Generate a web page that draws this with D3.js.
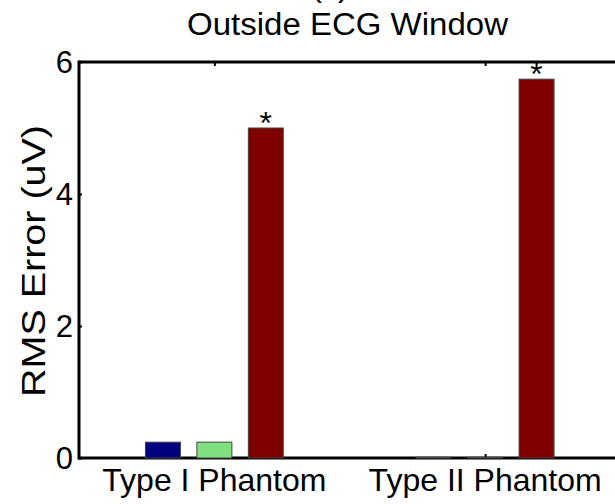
<!DOCTYPE html>
<html>
<head>
<meta charset="utf-8">
<script src="https://cdn.jsdelivr.net/npm/d3@7/dist/d3.min.js"></script>
<style>
  html, body { margin: 0; padding: 0; background: #fff; }
  svg { display: block; font-family: "Liberation Sans", Arial, sans-serif; }
</style>
</head>
<body>
<svg id="chart" width="615" height="504"></svg>
<script>
// Groups along the x axis
const categories = ["Type I Phantom", "Type II Phantom"];
// Three methods compared within each group
const seriesNames = ["Method A", "Method B", "Method C"];
// RMS error (uV), one array per series, indexed by category
const seriesA = [0.24, 0.012];
const seriesB = [0.24, 0.012];
const seriesC = [5.00, 5.74];
// Which bars carry a significance star
const starA = [false, false];
const starB = [false, false];
const starC = [true, true];
const yTicks = [0, 2, 4, 6];
const panelText = "(c)";
const titleText = "Outside ECG Window";
const yLabelText = "RMS Error (uV)";

const colors = ["#000080", "#80e080", "#800000"];
const values = [seriesA, seriesB, seriesC];
const stars = [starA, starB, starC];

const svg = d3.select("#chart");
const plotL = 79, plotR = 620.5, plotT = 62, plotB = 458;

// category positions run 1..n with half a unit of margin either side
const x = d3.scaleLinear().domain([0.5, categories.length + 0.5]).range([plotL, plotR]);
const y = d3.scaleLinear().domain([0, 6]).range([plotB, plotT]);
const unit = x(2) - x(1);
const sub = d3.scaleBand().domain(seriesNames)
  .range([-0.285 * unit, 0.285 * unit]).paddingInner(0.32).paddingOuter(0.16);

// axes (drawn under the bars)
const axisStyle = g => {
  g.select(".domain").remove();
  g.selectAll(".tick line").attr("stroke", "#000").attr("stroke-width", 2);
};
const catPos = categories.map((c, i) => i + 1);

svg.append("g").attr("transform", `translate(0,${plotB})`)
  .call(d3.axisTop(x).tickValues(catPos).tickSize(4).tickFormat(""))
  .call(axisStyle);
svg.append("g").attr("transform", `translate(0,${plotT})`)
  .call(d3.axisBottom(x).tickValues(catPos).tickSize(4).tickFormat(""))
  .call(axisStyle);
svg.append("g").attr("transform", `translate(${plotL},0)`)
  .call(d3.axisRight(y).tickValues(yTicks).tickSize(3).tickFormat(""))
  .call(axisStyle);

// frame lines
const frame = svg.append("g").attr("stroke", "#000").attr("stroke-width", 3).attr("fill", "none");
frame.append("line").attr("x1", plotL).attr("x2", plotR + 2).attr("y1", plotT).attr("y2", plotT);
frame.append("line").attr("x1", plotL).attr("x2", plotR + 2).attr("y1", plotB).attr("y2", plotB);
frame.append("line").attr("x1", plotL).attr("x2", plotL).attr("y1", plotT - 1.5).attr("y2", plotB + 1.5);

// bars
const barData = [];
values.forEach((vals, s) => vals.forEach((v, c) => barData.push({ s, c, v, star: stars[s][c] })));

svg.append("g").selectAll("rect").data(barData).join("rect")
  .attr("x", d => x(d.c + 1) + sub(seriesNames[d.s]))
  .attr("width", sub.bandwidth())
  .attr("y", d => y(d.v))
  .attr("height", d => y(0) - y(d.v))
  .attr("fill", d => colors[d.s])
  .attr("stroke", "#444")
  .attr("stroke-width", 1);

// significance stars
svg.append("g").selectAll("text").data(barData.filter(d => d.star)).join("text")
  .attr("x", d => x(d.c + 1) + sub(seriesNames[d.s]) + sub.bandwidth() / 2)
  .attr("y", d => y(d.v) + 6)
  .attr("text-anchor", "middle")
  .attr("font-size", 32)
  .text("*");

// y tick labels
svg.append("g").selectAll("text").data(yTicks).join("text")
  .attr("x", plotL - 6)
  .attr("y", d => y(d) + 11)
  .attr("text-anchor", "end")
  .attr("font-size", 31)
  .text(d => d);

// category labels
svg.append("g").selectAll("text").data(categories).join("text")
  .attr("x", (d, i) => x(i + 1))
  .attr("y", 491)
  .attr("text-anchor", "middle")
  .attr("font-size", 32)
  .text(d => d);

// y axis label
svg.append("text")
  .attr("transform", `translate(45,261) rotate(-90)`)
  .attr("text-anchor", "middle")
  .attr("font-size", 34)
  .attr("textLength", 272)
  .attr("lengthAdjust", "spacingAndGlyphs")
  .text(yLabelText);

// panel letter above the title (mostly outside the canvas)
svg.append("text")
  .attr("x", 330)
  .attr("y", -4)
  .attr("text-anchor", "middle")
  .attr("font-size", 32)
  .text(panelText);

// title
svg.append("text")
  .attr("x", 347.5)
  .attr("y", 35)
  .attr("text-anchor", "middle")
  .attr("font-size", 31)
  .attr("textLength", 321)
  .attr("lengthAdjust", "spacingAndGlyphs")
  .text(titleText);
</script>
</body>
</html>
